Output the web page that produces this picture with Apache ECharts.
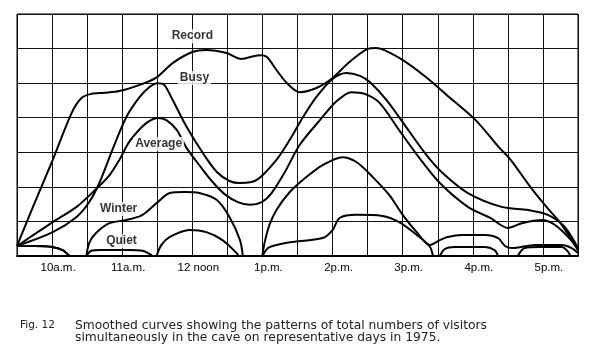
<!DOCTYPE html>
<html><head><meta charset="utf-8">
<script src="https://cdn.jsdelivr.net/npm/echarts@6/dist/echarts.min.js"></script>
<style>html,body{margin:0;padding:0;background:#fff}#c{width:600px;height:356px}</style>
</head><body><div id="c"></div>
<script>
// time in hours (9.5 = 9:30 a.m.), value in grid units (relative visitor numbers)
const hourTicks = [10, 11, 12, 13, 14, 15, 16, 17];
const tickLabels = ['10a.m.', '11a.m.', '12 noon', '1p.m.', '2p.m.', '3p.m.', '4p.m.', '5p.m.'];

const record = [[9.5,0.29],[9.75,1.53],[10.01,2.78],[10.28,4.14],[10.42,4.57],[10.56,4.69],[10.75,4.72],[10.96,4.77],[11.25,4.95],[11.48,5.15],[11.72,5.58],[12.0,5.9],[12.2,5.96],[12.49,5.87],[12.7,5.7],[12.96,5.81],[13.06,5.76],[13.2,5.38],[13.35,5.0],[13.53,4.74],[13.77,4.86],[14.0,5.15],[14.24,5.61],[14.5,5.99],[14.62,6.02],[14.95,5.73],[15.33,5.18],[15.66,4.6],[16.04,3.93],[16.37,3.15],[16.54,2.78],[16.82,2.0],[17.05,1.42],[17.25,0.95],[17.5,0.17]];

const busy = [[9.5,0.29],[10.01,0.69],[10.35,1.13],[10.53,1.56],[10.68,2.14],[10.86,3.07],[11.06,4.02],[11.25,4.6],[11.39,4.89],[11.5,5.0],[11.6,4.95],[11.72,4.51],[11.92,3.73],[12.15,2.98],[12.35,2.43],[12.53,2.17],[12.68,2.11],[12.92,2.2],[13.2,2.78],[13.39,3.36],[13.57,3.99],[13.77,4.6],[14.0,5.12],[14.2,5.29],[14.39,5.21],[14.53,5.03],[14.77,4.51],[15.06,3.7],[15.34,2.92],[15.57,2.4],[15.93,1.82],[16.41,1.42],[16.79,1.33],[17.07,1.19],[17.31,0.84],[17.5,0.23]];

const average = [[9.5,0.29],[10.01,0.98],[10.35,1.42],[10.63,1.94],[10.82,2.34],[10.96,2.78],[11.1,3.3],[11.28,3.73],[11.39,3.91],[11.5,3.99],[11.63,3.93],[11.78,3.64],[11.92,3.12],[12.11,2.6],[12.29,2.14],[12.46,1.79],[12.65,1.56],[12.82,1.48],[12.99,1.56],[13.13,1.82],[13.32,2.43],[13.53,3.21],[13.82,3.93],[14.06,4.48],[14.27,4.74],[14.46,4.69],[14.67,4.43],[14.95,3.64],[15.24,2.83],[15.53,2.11],[15.93,1.42],[16.25,1.1],[16.5,0.81],[16.7,0.95],[16.99,1.04],[17.21,0.84],[17.5,0.23]];

// curves that drop to zero are stored as separate segments
const winter = [
  [[9.5,0.29],[9.75,0.29],[10.0,0.26],[10.15,0.17],[10.25,0]],
  [[10.49,0],[10.53,0.38],[10.63,0.67],[10.82,0.95],[11.06,1.04],[11.29,1.19],[11.49,1.53],[11.68,1.82],[11.89,1.85],[12.1,1.82],[12.35,1.62],[12.53,1.13],[12.68,0.46],[12.72,0]],
  [[13.0,0],[13.03,0.38],[13.1,0.9],[13.2,1.33],[13.39,1.85],[13.63,2.29],[13.86,2.63],[14.14,2.86],[14.34,2.72],[14.57,2.29],[14.81,1.76],[15.0,1.19],[15.2,0.69],[15.39,0.32],[15.53,0.46],[15.64,0.55],[15.84,0.61],[16.17,0.61],[16.36,0.52],[16.46,0.29],[16.56,0.23],[16.89,0.32],[17.27,0.32],[17.41,0.23],[17.5,0.09]]
];

const quiet = [
  [[9.5,0.29],[9.75,0.29],[10.0,0.26],[10.15,0.17],[10.25,0]],
  [[10.49,0],[10.56,0.15],[10.68,0.17],[11.1,0.17],[11.29,0.15],[11.39,0.06],[11.43,0]],
  [[11.49,0],[11.56,0.32],[11.68,0.55],[11.96,0.75],[12.2,0.69],[12.43,0.46],[12.63,0.09],[12.66,0]],
  [[13.0,0],[13.08,0.23],[13.2,0.32],[13.39,0.4],[13.86,0.52],[14.0,0.75],[14.1,1.1],[14.34,1.19],[14.71,1.16],[14.95,0.98],[15.2,0.61],[15.39,0.26],[15.43,0]],
  [[15.53,0],[15.6,0.2],[15.74,0.26],[16.17,0.26],[16.31,0.17],[16.36,0]],
  [[16.64,0],[16.74,0.23],[16.96,0.26],[17.27,0.26],[17.36,0.12],[17.39,0]]
];

const curveNames = ['Record', 'Busy', 'Average', 'Winter', 'Quiet'];
const curveLabelAt = [[12.0,6.36],[12.03,5.15],[11.52,3.24],[10.95,1.36],[10.99,0.43]];

const captionNo = 'Fig. 12';
const captionText = 'Smoothed curves showing the patterns of total numbers of visitors\nsimultaneously in the cave on representative days in 1975.';

function lineSeries(name, data) {
  return {
    name: name, type: 'line', data: data, smooth: 0.3,
    symbol: 'none', silent: true, z: 3,
    lineStyle: { color: '#000', width: 2 }
  };
}

const series = [
  lineSeries('Record', record),
  lineSeries('Busy', busy),
  lineSeries('Average', average)
];
winter.forEach(s => series.push(lineSeries('Winter', s)));
quiet.forEach(s => series.push(lineSeries('Quiet', s)));
series.push({
  type: 'scatter', symbolSize: 1, itemStyle: { color: 'rgba(0,0,0,0)' }, z: 5, silent: true,
  data: curveNames.map((n, i) => ({ name: n, value: curveLabelAt[i] })),
  label: {
    show: true, position: 'inside', formatter: p => p.name,
    fontFamily: 'Liberation Sans', fontSize: 12, fontWeight: 'bold', color: '#000',
    backgroundColor: '#fff', padding: [1, 2]
  }
});

const chart = echarts.init(document.getElementById('c'), null, { renderer: 'canvas' });
chart.setOption({
  animation: false,
  backgroundColor: '#fff',
  grid: { left: 17, top: 14, width: 561, height: 242, show: true, borderColor: '#000', borderWidth: 1 },
  xAxis: {
    type: 'value', min: 9.5, max: 17.5, interval: 0.5,
    axisLine: { show: true, lineStyle: { color: '#000', width: 2 } },
    axisTick: { show: false },
    splitLine: { show: true, lineStyle: { color: '#111', width: 1 } },
    axisLabel: {
      margin: 6, fontFamily: 'Liberation Sans', fontSize: 11.5, color: '#000',
      padding: [0, 0, 0, 12],
      formatter: v => { const i = hourTicks.indexOf(v); return i >= 0 ? tickLabels[i] : ''; }
    }
  },
  yAxis: {
    type: 'value', min: 0, max: 7, interval: 1,
    axisLine: { show: false }, axisTick: { show: false }, axisLabel: { show: false },
    splitLine: { show: true, lineStyle: { color: '#111', width: 1 } }
  },
  graphic: [
    { type: 'text', left: 20, top: 320, style: { text: captionNo, font: '10.5px "DejaVu Sans"', fill: '#222' } },
    { type: 'text', left: 75, top: 320, style: { text: captionText, font: '12.3px "DejaVu Sans"', fill: '#222', lineHeight: 11.5 } }
  ],
  series: series
});
</script></body></html>
